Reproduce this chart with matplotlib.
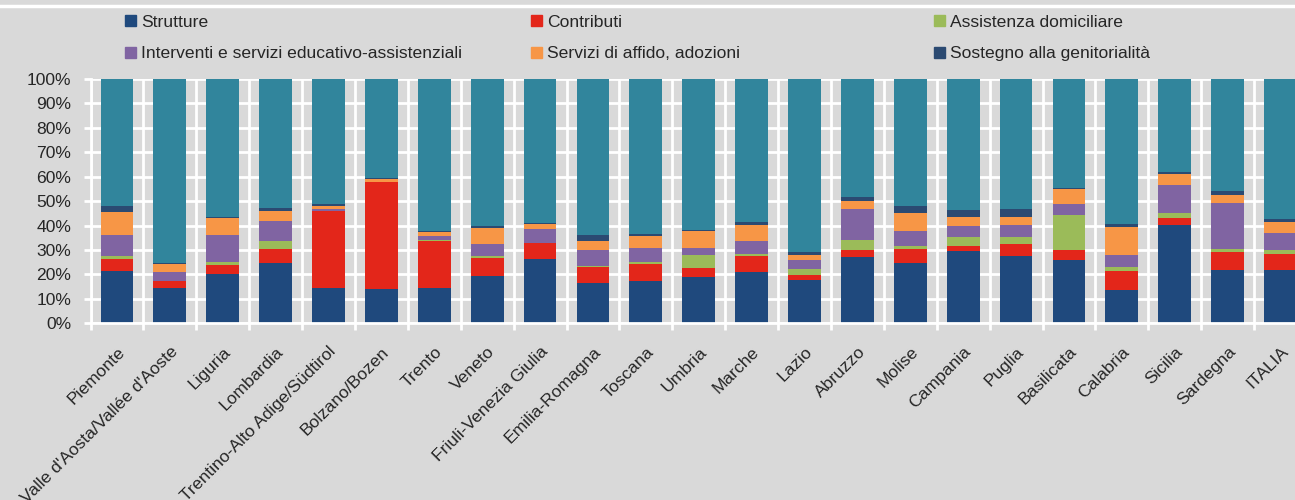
import matplotlib.pyplot as plt
from matplotlib.patches import Patch
from matplotlib.lines import Line2D
from matplotlib.ticker import FuncFormatter, MultipleLocator
import numpy as np

# regioni
regioni = ["Piemonte", "Valle d'Aosta/Vallée d'Aoste", "Liguria", "Lombardia",
           "Trentino-Alto Adige/Südtirol", "Bolzano/Bozen", "Trento", "Veneto",
           "Friuli-Venezia Giulia", "Emilia-Romagna", "Toscana", "Umbria", "Marche",
           "Lazio", "Abruzzo", "Molise", "Campania", "Puglia", "Basilicata",
           "Calabria", "Sicilia", "Sardegna", "ITALIA"]

# quote percentuali per voce di spesa
strutture = [21.3, 14.6, 20.3, 24.8, 14.6, 13.9, 14.6, 19.5, 26.2, 16.4, 17.2, 18.8,
             21.1, 17.9, 27.0, 24.6, 29.7, 27.7, 25.8, 13.8, 40.1, 22.0, 22.0]
contributi = [4.9, 2.9, 3.7, 5.8, 31.2, 43.8, 19.2, 7.4, 6.5, 6.8, 6.9, 4.0,
              6.6, 1.7, 3.2, 6.0, 2.0, 4.6, 4.2, 7.8, 3.1, 7.3, 6.5]
assistenza = [1.4, 0.0, 1.1, 3.1, 0.2, 0.0, 0.3, 0.5, 0.1, 0.3, 1.0, 5.2,
              0.7, 2.6, 4.0, 1.2, 3.5, 2.9, 14.2, 1.5, 2.1, 1.1, 1.7]
interventi = [8.6, 3.6, 11.1, 8.2, 0.9, 0.1, 1.8, 5.2, 5.9, 6.4, 5.7, 3.0,
              5.4, 3.9, 12.6, 6.1, 4.8, 5.2, 4.8, 4.7, 11.3, 19.0, 6.8]
affido = [9.5, 3.2, 6.9, 4.1, 1.3, 1.3, 1.6, 6.6, 2.1, 3.7, 5.1, 6.9,
          6.6, 1.7, 3.3, 7.4, 3.7, 3.3, 5.8, 11.6, 4.7, 3.1, 4.5]
sostegno = [2.3, 0.3, 0.6, 1.1, 0.5, 0.2, 0.4, 0.8, 0.3, 2.7, 0.5, 0.4,
            1.1, 1.3, 1.7, 2.7, 2.7, 3.0, 0.5, 1.1, 0.6, 1.8, 1.3]

serie = [strutture, contributi, assistenza, interventi, affido, sostegno]
nomi = ["Strutture", "Contributi", "Assistenza domiciliare",
        "Interventi e servizi educativo-assistenziali",
        "Servizi di affido, adozioni", "Sostegno alla genitorialità"]
colori = ["#1f497d", "#e3261a", "#9bbb59", "#8064a2", "#f79646", "#2b4a72"]
col_altro = "#31859c"
altro = list(100 - np.sum(np.array(serie), axis=0))

bg = "#d9d9d9"
testo = "#262626"
plt.rcParams['font.family'] = ['Liberation Sans', 'DejaVu Sans']
fs = 12.6

fig = plt.figure(figsize=(12.95, 5), dpi=100, facecolor=bg)
ax = fig.add_axes([90.5/1295, 1-323.3/500, (1307-90.5)/1295, (323.3-79)/500])
ax.set_facecolor(bg)

x = np.arange(len(regioni))
base = np.zeros(len(regioni))
for v, c in zip(serie + [altro], colori + [col_altro]):
    ax.bar(x, v, 0.62, bottom=base, color=c, zorder=3)
    base = base + np.array(v)

ax.set_xlim(-0.5, len(regioni)-0.5)
ax.set_ylim(0, 100)
ax.yaxis.set_major_locator(MultipleLocator(10))
ax.yaxis.set_major_formatter(FuncFormatter(lambda v, p: "%d%%" % v))
ax.set_xticks(x)
ax.set_xticklabels(regioni, rotation=45, ha='right', rotation_mode='anchor', fontsize=fs, color=testo)
ax.set_xticks(np.arange(-0.5, len(regioni), 1), minor=True)
ax.tick_params(axis='x', which='major', length=0, pad=15)
ax.tick_params(axis='x', which='minor', length=5, width=2, color='white')
ax.tick_params(axis='y', length=5, width=2, color='white', labelsize=fs, labelcolor=testo, pad=9)
ax.grid(axis='y', color='white', lw=2, zorder=1)
ax.grid(axis='x', which='minor', color='white', lw=2, zorder=1)
for s in ['top', 'right']:
    ax.spines[s].set_visible(False)
for s in ['left', 'bottom']:
    ax.spines[s].set_color('white')
    ax.spines[s].set_linewidth(2)
    ax.spines[s].set_zorder(4)

# linea bianca in alto
fig.add_artist(Line2D([0, 1], [1-6/500, 1-6/500], transform=fig.transFigure, color='white', lw=2.5))

# legenda su tre colonne
cols_x = [125, 531, 934]
for k in range(3):
    h = [Patch(color=colori[k]), Patch(color=colori[k+3])]
    fig.legend(h, [nomi[k], nomi[k+3]], loc='upper left',
               bbox_to_anchor=(cols_x[k]/1295, 1-15/500), frameon=False,
               fontsize=fs, handlelength=0.6, handleheight=0.6, handletextpad=0.3,
               borderpad=0, borderaxespad=0, labelspacing=0.93, labelcolor=testo)

fig.savefig("out.png", dpi=100, facecolor=bg)
